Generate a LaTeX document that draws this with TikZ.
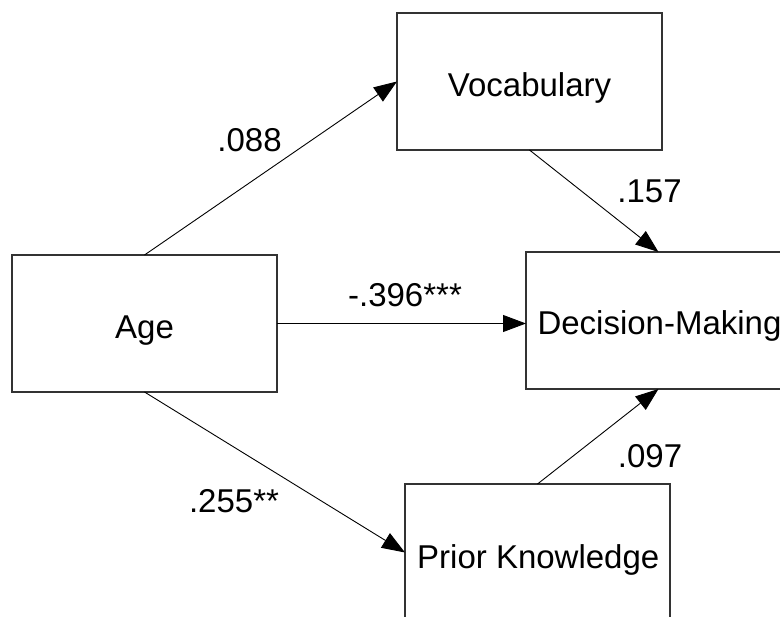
\documentclass[tikz,border=0pt]{standalone}
\usepackage{fontspec}
\setmainfont{Liberation Sans}
\usetikzlibrary{arrows.meta}
\begin{document}
\begin{tikzpicture}[x=1pt,y=-1pt,
  box/.style={draw=black!80,line width=1.2pt,minimum width=265pt,minimum height=137pt,inner sep=0pt,outer sep=0pt,fill=white},
  txt/.style={font=\fontsize{33}{39}\selectfont,inner sep=0pt,anchor=base},
  path/.style={draw=black,line width=0.9pt,-{Triangle[length=23pt,width=17pt]}}]
\useasboundingbox (0,0) rectangle (780,617);
\clip (0,0) rectangle (780,617);
\fill[white] (0,0) rectangle (780,617);
\node[box] (age) at (144.5,323.5) {};
\node[box] (voc) at (529.5,81.5) {};
\node[box] (dm) at (658.5,320.5) {};
\node[box] (pk) at (537.5,552.5) {};
\node[txt] (tage) at (144.5,338.3) {Age};
\node[txt] (tvoc) at (529.5,97) {Vocabulary};
\node[txt] (tdm) at (659.5,335) {Decision-Making};
\node[txt] (tpk) at (538.3,568.3) {Prior Knowledge};
\draw[path] (age.north) -- (voc.west);
\draw[path] (voc.south) -- (dm.north);
\draw[path] (age.east) -- (dm.west |- age.east);
\draw[path] (age.south) -- (pk.west);
\draw[path] (pk.north) -- (dm.south);
\node[txt] (l1) at (249.5,152) {.088};
\node[txt] (l2) at (649.5,203) {.157};
\node[txt] (l3) at (405,307) {-.396***};
\node[txt] (l4) at (650,468) {.097};
\node[txt] (l5) at (234,513) {.255**};
\end{tikzpicture}
\end{document}
